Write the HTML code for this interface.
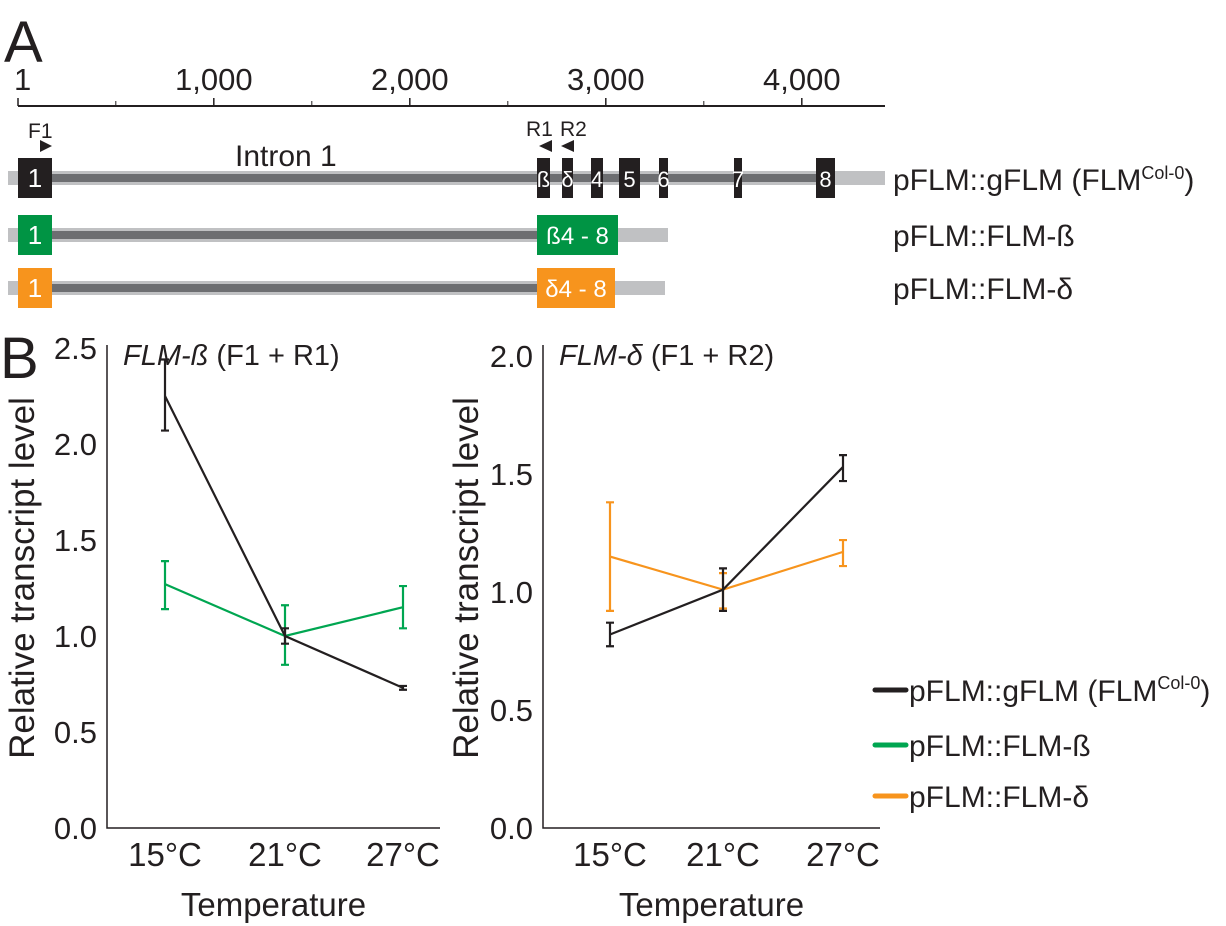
<!DOCTYPE html>
<html><head><meta charset="utf-8"><style>
body{margin:0;background:#fff}
svg{display:block;font-family:"Liberation Sans",Arial,sans-serif}
</style></head><body>
<svg width="1226" height="926" viewBox="0 0 1226 926">
<text x="4" y="62" font-size="58" fill="#231f20">A</text>
<text x="0" y="378" font-size="58" fill="#231f20">B</text>
<g id="gene"></g>
<g id="left"></g>
<g id="right"></g>
<g id="legend"></g>
</svg>
<script>
const NS="http://www.w3.org/2000/svg";
function mk(p,t,a,txt){const e=document.createElementNS(NS,t);for(const k in a)e.setAttribute(k,a[k]);if(txt!==undefined)e.textContent=txt;p.appendChild(e);return e;}

// ---- gene scale data ----
const scaleTicks=[1,1000,2000,3000,4000];
const scaleLabels=["1","1,000","2,000","3,000","4,000"];
const minorTicks=[500,1500,2500,3500];
// ---- chart data ----
const temps=["15°C","21°C","27°C"];
const betaCol0=[2.25,1.0,0.73];
const betaCol0Lo=[2.07,0.96,0.72];
const betaCol0Hi=[2.44,1.04,0.74];
const betaFLM=[1.27,1.0,1.15];
const betaFLMLo=[1.14,0.85,1.04];
const betaFLMHi=[1.39,1.16,1.26];
const deltaCol0=[0.82,1.01,1.53];
const deltaCol0Lo=[0.77,0.92,1.47];
const deltaCol0Hi=[0.87,1.10,1.58];
const deltaFLM=[1.15,1.01,1.17];
const deltaFLMLo=[0.92,0.93,1.11];
const deltaFLMHi=[1.38,1.08,1.22];
const leftTicks=["0.0","0.5","1.0","1.5","2.0","2.5"];
const rightTicks=["0.0","0.5","1.0","1.5","2.0"];

// gene diagram
const g=document.getElementById('gene');
const bx=v=>18+(v-1)*(196/1000);
let el=mk(g,'line',{x1:18,y1:106,x2:885,y2:106,stroke:'#231f20','stroke-width':2});

scaleTicks.forEach((t,i)=>{
  let l=mk(g,'line',{x1:bx(t),y1:98,x2:bx(t),y2:106,stroke:'#231f20','stroke-width':1.5});
  
  let tx=mk(g,'text',{x:bx(t)+(i==0?-4:0),y:90,'font-size':31,fill:'#231f20','text-anchor':i==0?'start':'middle'},scaleLabels[i]);
  
});
minorTicks.forEach(t=>{let l=mk(g,'line',{x1:bx(t),y1:101,x2:bx(t),y2:106,stroke:'#231f20','stroke-width':1});
  });
function row(y,end,dark,name){
  mk(g,'rect',{x:8,y:y-7,width:end-8,height:14,fill:'#c0c1c3'});
  mk(g,'rect',{x:18,y:y-4,width:dark-18,height:8,fill:'#6d6e71'});
}
row(178,885,835,'gflm');
row(235,668,540,'flm-beta');
row(288,665,540,'flm-delta');
function exon(x1,x2,y1,y2,c,t,fs,name){
  let r=mk(g,'rect',{x:x1,y:y1,width:x2-x1,height:y2-y1,fill:c});
  
  mk(g,'text',{x:(x1+x2)/2,y:(y1+y2)/2+9,'font-size':fs,fill:'#fff','text-anchor':'middle'},t);
}
exon(18,52,158,198,'#231f20','1',26,'exon-1');
[[537,550,'ß'],[562,573,'δ'],[591,603,'4'],[619,640,'5'],[659,668,'6'],[734,742,'7'],[816,835,'8']].forEach(e=>exon(e[0],e[1],158,198,'#231f20',e[2],22,'exon-'+e[2]));
exon(18,52,215,255,'#009444','1',26,'beta-exon-1');
exon(537,618,215,255,'#009444','ß4 - 8',24,'beta-exons-4-8');
exon(18,52,268,308,'#f7941d','1',26,'delta-exon-1');
exon(537,615,268,308,'#f7941d','δ4 - 8',24,'delta-exons-4-8');
mk(g,'text',{x:28,y:138,'font-size':21,fill:'#231f20'},'F1');
mk(g,'polygon',{points:'40,140 52,146 40,152',fill:'#231f20'});
mk(g,'text',{x:526,y:136,'font-size':21,fill:'#231f20'},'R1');
mk(g,'text',{x:560,y:136,'font-size':21,fill:'#231f20'},'R2');
mk(g,'polygon',{points:'552,140 539,146 552,152',fill:'#231f20'});
mk(g,'polygon',{points:'574,140 561,146 574,152',fill:'#231f20'});
mk(g,'text',{x:235,y:166,'font-size':30,fill:'#231f20'},'Intron 1');
let lb=mk(g,'text',{x:893,y:190,'font-size':30,fill:'#231f20'});
lb.innerHTML='pFLM::gFLM (FLM<tspan font-size="18" dy="-11">Col-0</tspan><tspan dy="11">)</tspan>';

mk(g,'text',{x:893,y:246,'font-size':30,fill:'#231f20'},'pFLM::FLM-ß');
mk(g,'text',{x:893,y:299,'font-size':30,fill:'#231f20'},'pFLM::FLM-δ');

function chart(id,ax,axEnd,yTop,yMaxV,ticks,xs,title,ylabX,series){
  const p=document.getElementById(id);
  const y0=828;const ys=v=>y0-v*(y0-yTop)/yMaxV;
  let a=mk(p,'polyline',{points:`${ax},345 ${ax},${y0} ${axEnd},${y0}`,fill:'none',stroke:'#231f20','stroke-width':1.5});
  
  ticks.forEach(t=>{let tx=mk(p,'text',{x:ax-10,y:ys(parseFloat(t))+11,'font-size':31,fill:'#231f20','text-anchor':'end'},t);
    });
  temps.forEach((t,i)=>{let tx=mk(p,'text',{x:xs[i],y:866,'font-size':33,fill:'#231f20','text-anchor':'middle'},t);
    });
  let xt=mk(p,'text',{x:(ax+axEnd)/2,y:916,'font-size':33,fill:'#231f20','text-anchor':'middle'},'Temperature');
  
  let yt=mk(p,'text',{x:0,y:0,'font-size':35,fill:'#231f20','text-anchor':'middle',transform:`translate(${ylabX},578) rotate(-90)`},'Relative transcript level');
  
  let tt=mk(p,'text',{x:ax+16,y:365,'font-size':29,fill:'#231f20'});tt.innerHTML=title;
  
  series.forEach(s=>{
    let pl=mk(p,'polyline',{points:s.v.map((v,i)=>xs[i]+','+ys(v)).join(' '),fill:'none',stroke:s.c,'stroke-width':2.2});
    
    s.v.forEach((v,i)=>{
      let eb=mk(p,'path',{d:`M${xs[i]},${ys(s.lo[i])}V${ys(s.hi[i])}M${xs[i]-4},${ys(s.lo[i])}h8M${xs[i]-4},${ys(s.hi[i])}h8`,stroke:s.c,'stroke-width':2.2,fill:'none'});
      
    });
  });
}
chart('left',107,440,348,2.5,leftTicks,[165,285,403],'<tspan font-style="italic">FLM-ß</tspan> (F1 + R1)',34,[
 {v:betaFLM,lo:betaFLMLo,hi:betaFLMHi,c:'#00a651',n:'beta-flm'},
 {v:betaCol0,lo:betaCol0Lo,hi:betaCol0Hi,c:'#231f20',n:'beta-col0'}]);
chart('right',543,880,356,2.0,rightTicks,[610,723,843],'<tspan font-style="italic">FLM-δ</tspan> (F1 + R2)',478,[
 {v:deltaFLM,lo:deltaFLMLo,hi:deltaFLMHi,c:'#f7941d',n:'delta-flm'},
 {v:deltaCol0,lo:deltaCol0Lo,hi:deltaCol0Hi,c:'#231f20',n:'delta-col0'}]);

const L=document.getElementById('legend');
[[690,'#231f20','pFLM::gFLM (FLM<tspan font-size="18" dy="-12">Col-0</tspan><tspan dy="12">)</tspan>','legend-gflm'],
 [745,'#00a651','pFLM::FLM-ß','legend-flm-beta'],[796,'#f7941d','pFLM::FLM-δ','legend-flm-delta']].forEach(r=>{
  let gg=mk(L,'g',{});
  mk(gg,'line',{x1:875,y1:r[0],x2:906,y2:r[0],stroke:r[1],'stroke-width':5,'stroke-linecap':'round'});
  let t=mk(gg,'text',{x:909,y:r[0]+11,'font-size':30,fill:'#231f20'});t.innerHTML=r[2];
});
</script>
</body></html>
